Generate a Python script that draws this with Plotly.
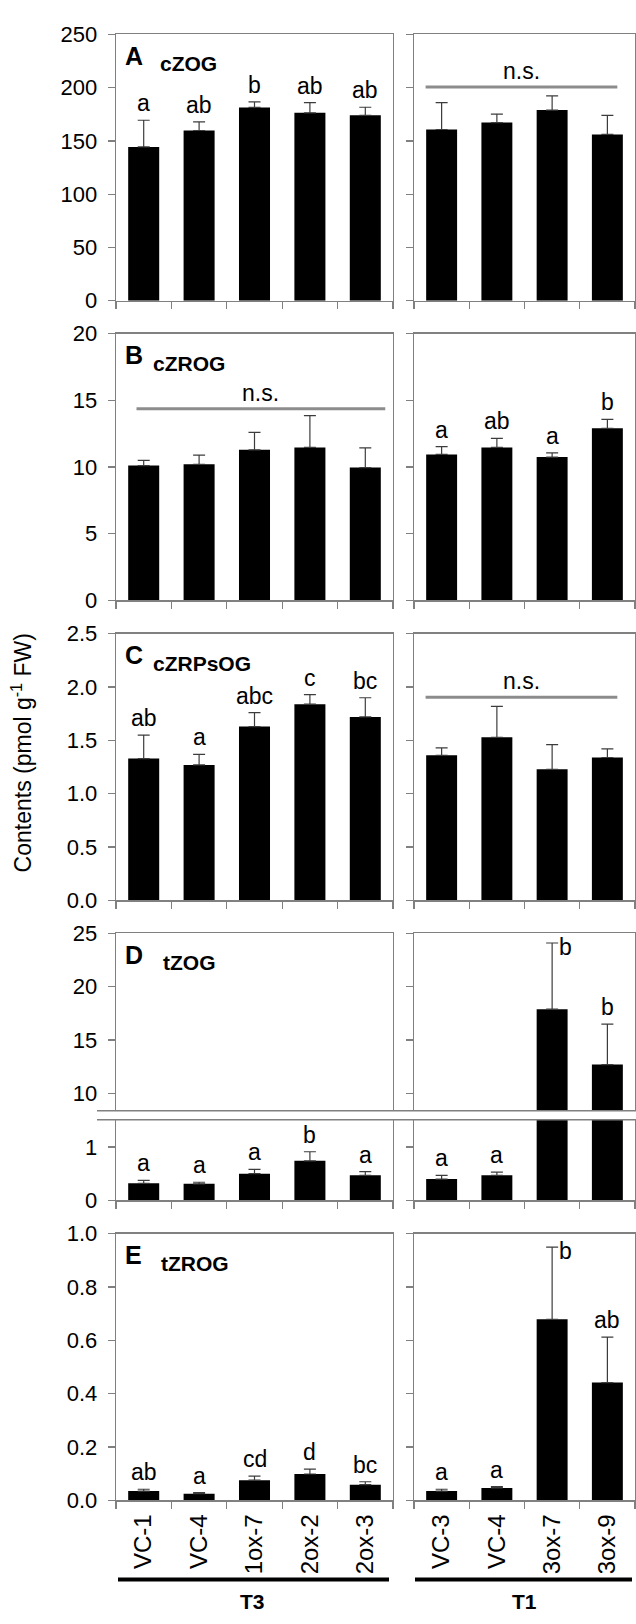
import plotly.graph_objects as go

W, H = 636, 1624

# ---------------- data ----------------
T3_LINES = ["VC-1", "VC-4", "1ox-7", "2ox-2", "2ox-3"]
T1_LINES = ["VC-3", "VC-4", "3ox-7", "3ox-9"]

# A  cZOG
CZOG_T3 = [144.4, 159.8, 181.4, 176.4, 174.0]
CZOG_T3_ERR = [25.0, 8.0, 5.2, 9.6, 7.6]
CZOG_T3_SIG = ["a", "ab", "b", "ab", "ab"]
CZOG_T1 = [160.7, 167.2, 178.9, 156.1]
CZOG_T1_ERR = [25.3, 8.0, 13.3, 17.9]
CZOG_T1_NS = 200.7

# B  cZROG
CZROG_T3 = [10.11, 10.21, 11.29, 11.47, 9.96]
CZROG_T3_ERR = [0.40, 0.69, 1.31, 2.38, 1.48]
CZROG_T3_NS = 14.37
CZROG_T1 = [10.95, 11.47, 10.75, 12.91]
CZROG_T1_ERR = [0.59, 0.68, 0.32, 0.67]
CZROG_T1_SIG = ["a", "ab", "a", "b"]

# C  cZRPsOG
CZRPSOG_T3 = [1.33, 1.27, 1.63, 1.84, 1.72]
CZRPSOG_T3_ERR = [0.22, 0.10, 0.13, 0.09, 0.18]
CZRPSOG_T3_SIG = ["ab", "a", "abc", "c", "bc"]
CZRPSOG_T1 = [1.36, 1.53, 1.23, 1.34]
CZRPSOG_T1_ERR = [0.07, 0.29, 0.23, 0.08]
CZRPSOG_T1_NS = 1.905

# D  tZOG
TZOG_T3 = [0.32, 0.31, 0.50, 0.74, 0.47]
TZOG_T3_ERR = [0.055, 0.03, 0.08, 0.17, 0.07]
TZOG_T3_SIG = ["a", "a", "a", "b", "a"]
TZOG_T1 = [0.40, 0.47, 17.9, 12.7]
TZOG_T1_ERR = [0.07, 0.06, 6.2, 3.8]
TZOG_T1_SIG = ["a", "a", "b", "b"]

# E  tZROG
TZROG_T3 = [0.035, 0.025, 0.076, 0.099, 0.059]
TZROG_T3_ERR = [0.007, 0.004, 0.015, 0.018, 0.011]
TZROG_T3_SIG = ["ab", "a", "cd", "d", "bc"]
TZROG_T1 = [0.035, 0.047, 0.679, 0.442]
TZROG_T1_ERR = [0.007, 0.005, 0.271, 0.170]
TZROG_T1_SIG = ["a", "a", "b", "ab"]

Y_TITLE = "Contents (pmol g<sup>-1</sup> FW)"

# ---------------- style / geometry ----------------
FONT = "Liberation Sans, Arial, sans-serif"
GRAY = "#808080"
ERRC = "#3c3c3c"
LEFT_X = (116, 393)
RIGHT_X = (414, 635)
BAR_W = 0.56
TICK_FS = 22
SIG_FS = 23


def px_x(x):
    return x / W


def px_y(y):
    return 1 - y / H


fig = go.Figure()
annotations = []
shapes = []
axis_count = [0]
layout_axes = {}


def add_subplot(cats, vals, errs, xpx, ypx, yrange, ytickvals, ytickformat,
                show_ylabels, xmode):
    axis_count[0] += 1
    i = axis_count[0]
    xn = "x" if i == 1 else f"x{i}"
    yn = "y" if i == 1 else f"y{i}"
    xkey = "xaxis" if i == 1 else f"xaxis{i}"
    ykey = "yaxis" if i == 1 else f"yaxis{i}"
    fig.add_trace(go.Bar(
        x=cats, y=vals, width=BAR_W, xaxis=xn, yaxis=yn,
        marker=dict(color="black", line=dict(width=0)),
        error_y=dict(type="data", array=errs, arrayminus=[0] * len(errs),
                     symmetric=False, color=ERRC, thickness=1.2, width=6),
        showlegend=False, hoverinfo="skip"))
    xa = dict(domain=[px_x(xpx[0]), px_x(xpx[1])], anchor=yn, type="category",
              categoryorder="array", categoryarray=cats,
              range=[-0.5, len(cats) - 0.5], showgrid=False, zeroline=False,
              linecolor=GRAY, linewidth=1.3, tickcolor=GRAY, tickwidth=1.3,
              fixedrange=True)
    if xmode == "top":
        xa.update(side="top", showline=True, mirror=False, ticks="",
                  showticklabels=False)
    elif xmode == "bottom":
        xa.update(showline=True, mirror=False, ticks="outside", ticklen=7,
                  tickson="boundaries", showticklabels=False)
    elif xmode == "labels":
        xa.update(showline=True, mirror=True, ticks="outside", ticklen=7,
                  tickson="boundaries", showticklabels=True, tickangle=-90,
                  ticklabelstandoff=3,
                  tickfont=dict(family=FONT, size=24, color="black"))
    else:
        xa.update(showline=True, mirror=True, ticks="outside", ticklen=7,
                  tickson="boundaries", showticklabels=False)
    ya = dict(domain=[px_y(ypx[1]), px_y(ypx[0])], anchor=xn, range=yrange,
              tickvals=ytickvals, tickformat=ytickformat, showgrid=False,
              zeroline=False, showline=True, mirror=True, linecolor=GRAY,
              linewidth=1.3, ticks="outside", ticklen=7, tickcolor=GRAY,
              tickwidth=1.3, showticklabels=show_ylabels,
              ticklabelstandoff=6,
              tickfont=dict(family=FONT, size=TICK_FS, color="black"),
              fixedrange=True)
    layout_axes[xkey] = xa
    layout_axes[ykey] = ya
    return xn, yn


def add_letters(xn, yn, cats, vals, errs, sigs, side=(), keep=None):
    for k, (c, v, e, s) in enumerate(zip(cats, vals, errs, sigs)):
        if keep is not None and not keep(v + e):
            continue
        if k in side:
            annotations.append(dict(x=c, y=v + e, xref=xn, yref=yn, text=s,
                                    showarrow=False, xanchor="left",
                                    yanchor="middle", xshift=5, yshift=-4,
                                    font=dict(family=FONT, size=SIG_FS,
                                              color="black")))
        else:
            annotations.append(dict(x=c, y=v + e, xref=xn, yref=yn, text=s,
                                    showarrow=False, xanchor="center",
                                    yanchor="bottom", yshift=2,
                                    font=dict(family=FONT, size=SIG_FS,
                                              color="black")))


def add_ns(xn, yn, x0, x1, level):
    shapes.append(dict(type="line", xref=xn, yref=yn, x0=x0, x1=x1,
                       y0=level, y1=level,
                       line=dict(color="#8c8c8c", width=3)))
    annotations.append(dict(x=(x0 + x1) / 2, y=level, xref=xn, yref=yn,
                            text="n.s.", showarrow=False, xanchor="center",
                            yanchor="bottom", yshift=1,
                            font=dict(family=FONT, size=SIG_FS,
                                      color="black")))


def add_panel_label(letter, name, top, name_x):
    annotations.append(dict(x=px_x(123), y=px_y(top + 22), xref="paper",
                            yref="paper", text=f"<b>{letter}</b>",
                            showarrow=False, xanchor="left", yanchor="middle",
                            font=dict(family=FONT, size=25, color="black")))
    annotations.append(dict(x=px_x(name_x), y=px_y(top + 30), xref="paper",
                            yref="paper", text=f"<b>{name}</b>",
                            showarrow=False, xanchor="left", yanchor="middle",
                            font=dict(family=FONT, size=21, color="black")))


# ---------------- panel A ----------------
A_Y = (22.7, 293.3)
xa1, ya1 = add_subplot(T3_LINES, CZOG_T3, CZOG_T3_ERR, LEFT_X, A_Y, [0, 250],
                       [0, 50, 100, 150, 200, 250], None, True, "normal")
add_letters(xa1, ya1, T3_LINES, CZOG_T3, CZOG_T3_ERR, CZOG_T3_SIG)
xa2, ya2 = add_subplot(T1_LINES, CZOG_T1, CZOG_T1_ERR, RIGHT_X, A_Y, [0, 250],
                       [0, 50, 100, 150, 200, 250], None, False, "normal")
add_ns(xa2, ya2, -0.29, 3.18, CZOG_T1_NS)
add_panel_label("A", "cZOG", A_Y[0], 158)

# ---------------- panel B ----------------
B_Y = (326.7, 597.7)
xb1, yb1 = add_subplot(T3_LINES, CZROG_T3, CZROG_T3_ERR, LEFT_X, B_Y, [0, 20],
                       [0, 5, 10, 15, 20], None, True, "normal")
add_ns(xb1, yb1, -0.13, 4.36, CZROG_T3_NS)
xb2, yb2 = add_subplot(T1_LINES, CZROG_T1, CZROG_T1_ERR, RIGHT_X, B_Y, [0, 20],
                       [0, 5, 10, 15, 20], None, False, "normal")
add_letters(xb2, yb2, T1_LINES, CZROG_T1, CZROG_T1_ERR, CZROG_T1_SIG)
add_panel_label("B", "cZROG", B_Y[0], 151)

# ---------------- panel C ----------------
C_Y = (631.5, 902.3)
CT = [0, 0.5, 1.0, 1.5, 2.0, 2.5]
xc1, yc1 = add_subplot(T3_LINES, CZRPSOG_T3, CZRPSOG_T3_ERR, LEFT_X, C_Y,
                       [0, 2.5], CT, ".1f", True, "normal")
add_letters(xc1, yc1, T3_LINES, CZRPSOG_T3, CZRPSOG_T3_ERR, CZRPSOG_T3_SIG)
xc2, yc2 = add_subplot(T1_LINES, CZRPSOG_T1, CZRPSOG_T1_ERR, RIGHT_X, C_Y,
                       [0, 2.5], CT, ".1f", False, "normal")
add_ns(xc2, yc2, -0.29, 3.18, CZRPSOG_T1_NS)
add_panel_label("C", "cZRPsOG", C_Y[0], 151)

# ---------------- panel D (broken axis) ----------------
DU_Y = (935.8, 1116.0)
DL_Y = (1125.0, 1207.0)
DU_RANGE = [8.37, 25]
DL_RANGE = [0, 1.51]
xdu1, ydu1 = add_subplot(T3_LINES, TZOG_T3, TZOG_T3_ERR, LEFT_X, DU_Y,
                         DU_RANGE, [10, 15, 20, 25], None, True, "top")
xdu2, ydu2 = add_subplot(T1_LINES, TZOG_T1, TZOG_T1_ERR, RIGHT_X, DU_Y,
                         DU_RANGE, [10, 15, 20, 25], None, False, "top")
xdl1, ydl1 = add_subplot(T3_LINES, TZOG_T3, TZOG_T3_ERR, LEFT_X, DL_Y,
                         DL_RANGE, [0, 1], None, True, "bottom")
xdl2, ydl2 = add_subplot(T1_LINES, TZOG_T1, TZOG_T1_ERR, RIGHT_X, DL_Y,
                         DL_RANGE, [0, 1], None, False, "bottom")
add_letters(xdl1, ydl1, T3_LINES, TZOG_T3, TZOG_T3_ERR, TZOG_T3_SIG)
add_letters(xdl2, ydl2, T1_LINES, TZOG_T1, TZOG_T1_ERR, TZOG_T1_SIG,
            keep=lambda t: t < DL_RANGE[1])
add_letters(xdu2, ydu2, T1_LINES, TZOG_T1, TZOG_T1_ERR, TZOG_T1_SIG,
            side=(2,), keep=lambda t: t > DL_RANGE[1])
add_panel_label("D", "tZOG", DU_Y[0], 161)
for yb in (DU_Y[1], DL_Y[0]):
    shapes.append(dict(type="line", xref="paper", yref="paper",
                       x0=px_x(97), x1=1, y0=px_y(yb), y1=px_y(yb),
                       line=dict(color=GRAY, width=1.5), layer="above"))

# ---------------- panel E ----------------
E_Y = (1240.8, 1511.7)
ET = [0, 0.2, 0.4, 0.6, 0.8, 1.0]
xe1, ye1 = add_subplot(T3_LINES, TZROG_T3, TZROG_T3_ERR, LEFT_X, E_Y, [0, 1.0],
                       ET, ".1f", True, "labels")
add_letters(xe1, ye1, T3_LINES, TZROG_T3, TZROG_T3_ERR, TZROG_T3_SIG)
xe2, ye2 = add_subplot(T1_LINES, TZROG_T1, TZROG_T1_ERR, RIGHT_X, E_Y, [0, 1.0],
                       ET, ".1f", False, "labels")
add_letters(xe2, ye2, T1_LINES, TZROG_T1, TZROG_T1_ERR, TZROG_T1_SIG, side=(2,))
add_panel_label("E", "tZROG", E_Y[0], 159)

# ---------------- generation bars ----------------
for (x0, x1, label, cx) in ((118, 389, "T3", 252), (415, 632, "T1", 524)):
    shapes.append(dict(type="line", xref="paper", yref="paper",
                       x0=px_x(x0), x1=px_x(x1), y0=px_y(1592), y1=px_y(1592),
                       line=dict(color="black", width=4)))
    annotations.append(dict(x=px_x(cx), y=px_y(1614), xref="paper",
                            yref="paper", text=f"<b>{label}</b>",
                            showarrow=False, xanchor="center",
                            yanchor="middle",
                            font=dict(family=FONT, size=21, color="black")))

# y title
annotations.append(dict(x=px_x(22), y=px_y(753), xref="paper", yref="paper",
                        text=Y_TITLE, textangle=-90, showarrow=False,
                        xanchor="center", yanchor="middle",
                        font=dict(family=FONT, size=23, color="black")))

fig.update_layout(
    width=W, height=H, margin=dict(l=0, r=0, t=0, b=0),
    paper_bgcolor="white", plot_bgcolor="white",
    font=dict(family=FONT, color="black"),
    annotations=annotations, shapes=shapes, showlegend=False,
    **layout_axes)

fig.write_html(
    "out.html",
    config={"displayModeBar": False, "staticPlot": True},
    post_script="document.body.style.margin='0px';"
                "document.body.style.overflow='hidden';")
